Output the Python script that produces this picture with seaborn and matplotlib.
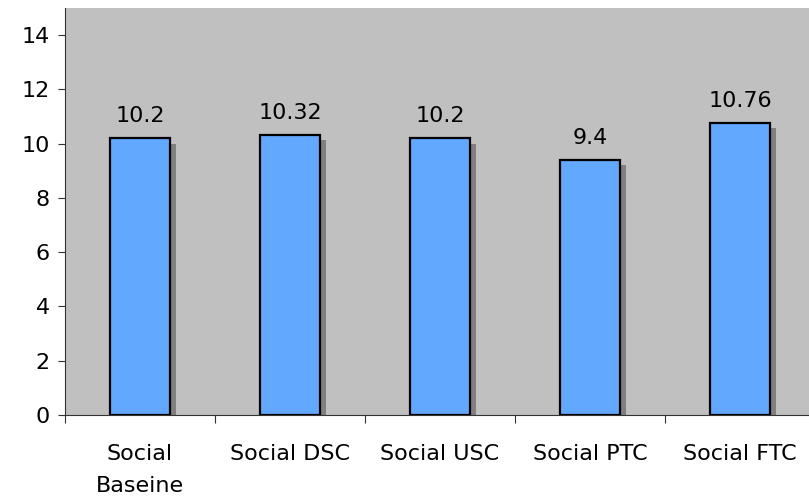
import matplotlib
matplotlib.use("Agg")
import matplotlib.pyplot as plt
import seaborn as sns
import pandas as pd
import numpy as np

categories = ["Social\nBaseine", "Social DSC", "Social USC", "Social PTC", "Social FTC"]
values = [10.2, 10.32, 10.2, 9.4, 10.76]
value_labels = ["10.2", "10.32", "10.2", "9.4", "10.76"]
yticks = [0, 2, 4, 6, 8, 10, 12, 14]

sns.set_theme(style="white")
plt.rcParams['font.family'] = ['DejaVu Sans']

df = pd.DataFrame({"cat": categories, "val": values})

W, H = 809, 501
fig = plt.figure(figsize=(W / 100, H / 100), dpi=100)
ax = fig.add_axes([65 / W, (H - 415) / H, 750 / W, (415 - 8) / H])
ax.set_facecolor("#C0C0C0")

# shadow bars
xpos = np.arange(len(values))
ax.bar(xpos + 0.037, np.array(values) - 0.2, width=0.4, color="#808080",
       linewidth=0, zorder=1)

sns.barplot(data=df, x="cat", y="val", ax=ax, color="#62A8FF", width=0.4,
            edgecolor="black", linewidth=1.6, saturation=1, zorder=2)

for x, v, lab in zip(xpos, values, value_labels):
    ax.annotate(lab, (x, v), xytext=(0, 11.5), textcoords="offset points",
                ha="center", va="baseline", fontsize=16, color="black")

ax.set_xlim(-0.5, 4.5)
ax.set_ylim(0, 15)
ax.set_yticks(yticks)
ax.set_xlabel("")
ax.set_ylabel("")
ax.set_xticks(xpos)
ax.set_xticklabels(categories, fontsize=16, linespacing=1.75)
ax.set_xticks(np.arange(-0.5, 5.0, 1.0), minor=True)
ax.tick_params(axis="x", which="major", length=0, pad=21, colors="black")
ax.tick_params(axis="x", which="minor", length=6, width=0.8, color="#333333", bottom=True)
ax.tick_params(axis="y", length=5, width=0.8, color="#333333", pad=6, labelsize=16,
               left=True, labelcolor="black")
for s in ["top", "right"]:
    ax.spines[s].set_visible(False)
for s in ["left", "bottom"]:
    ax.spines[s].set_color("#333333")
    ax.spines[s].set_linewidth(0.8)

fig.savefig("out.png", dpi=100)
